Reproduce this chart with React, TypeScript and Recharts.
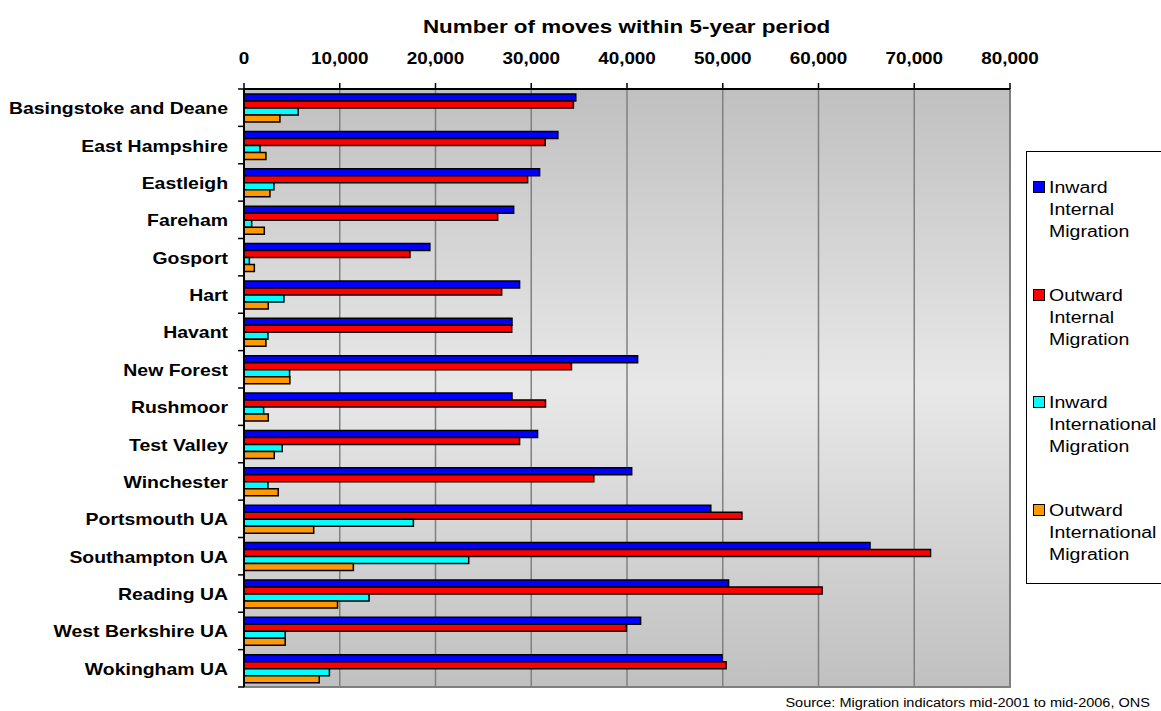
import { BarChart, Bar, XAxis, YAxis, CartesianGrid, ReferenceArea } from 'recharts';

const areas = [
  'Basingstoke and Deane',
  'East Hampshire',
  'Eastleigh',
  'Fareham',
  'Gosport',
  'Hart',
  'Havant',
  'New Forest',
  'Rushmoor',
  'Test Valley',
  'Winchester',
  'Portsmouth UA',
  'Southampton UA',
  'Reading UA',
  'West Berkshire UA',
  'Wokingham UA',
];

const inwardInternal = [34650, 32780, 30870, 28160, 19410, 28780, 27990, 41110, 27990, 30660, 40490, 48750, 65380, 50610, 41420, 49920];
const outwardInternal = [34400, 31460, 29620, 26490, 17330, 26910, 27960, 34200, 31490, 28780, 36530, 52000, 71700, 60380, 39940, 50350];
const inwardInternational = [5660, 1670, 3125, 800, 560, 4170, 2500, 4760, 2050, 3990, 2500, 17690, 23470, 13060, 4300, 8920];
const outwardInternational = [3750, 2290, 2710, 2120, 1080, 2535, 2290, 4790, 2535, 3160, 3575, 7280, 11420, 9770, 4300, 7860];

const xTicks = [0, 10000, 20000, 30000, 40000, 50000, 60000, 70000, 80000];

const series = [
  { key: 'inInt', name: ['Inward', 'Internal', 'Migration'], color: '#0000ff' },
  { key: 'outInt', name: ['Outward', 'Internal', 'Migration'], color: '#ff0000' },
  { key: 'inIntl', name: ['Inward', 'International', 'Migration'], color: '#00ffff' },
  { key: 'outIntl', name: ['Outward', 'International', 'Migration'], color: '#ff9900' },
];

const data = areas.map((area, i) => ({
  area,
  inInt: inwardInternal[i],
  outInt: outwardInternal[i],
  inIntl: inwardInternational[i],
  outIntl: outwardInternational[i],
}));

const FONT = 'Arial, "Liberation Sans", sans-serif';
const STRETCH = 1.18;
const PLOT_TOP = 89;
const PLOT_BOTTOM = 687;
const AXIS_X = 244;
const BAND = (PLOT_BOTTOM - PLOT_TOP) / areas.length;

// category label at band centre, tick marks on band edges (Excel style)
function AreaTick(props: any) {
  const { y, payload, index } = props;
  return (
    <g>
      <line x1={AXIS_X - 6} x2={AXIS_X} y1={y - BAND / 2} y2={y - BAND / 2} stroke="#000" strokeWidth={1.5} />
      {index === areas.length - 1 && (
        <line x1={AXIS_X - 6} x2={AXIS_X} y1={y + BAND / 2} y2={y + BAND / 2} stroke="#000" strokeWidth={1.5} />
      )}
      <g transform={`translate(${AXIS_X - 16},${y}) scale(1.2,1)`}>
        <text x={0} y={0} dy={6.5} textAnchor="end" fontSize={16.2} fontWeight="bold" fill="#000" fontFamily={FONT}>
          {payload.value}
        </text>
      </g>
    </g>
  );
}

function MovesTick(props: any) {
  const { x, payload } = props;
  return (
    <g transform={`translate(${x},64) scale(${STRETCH},1)`}>
      <text x={0} y={0} textAnchor="middle" fontSize={16} fontWeight="bold" fill="#000" fontFamily={FONT}>
        {payload.value.toLocaleString('en-GB')}
      </text>
    </g>
  );
}

export default function App() {
  return (
    <div style={{ position: 'relative', width: 1161, height: 711, background: '#fff', overflow: 'hidden', fontFamily: FONT }}>
      <style>{`body { margin: 0; }`}</style>

      <div style={{ position: 'absolute', left: 0, width: 1254, top: 15, textAlign: 'center', lineHeight: '24px' }}>
        <span style={{ display: 'inline-block', fontSize: 19, fontWeight: 'bold', transform: `scaleX(${STRETCH})` }}>
          Number of moves within 5-year period
        </span>
      </div>

      <BarChart
        width={1161}
        height={711}
        data={data}
        layout="vertical"
        margin={{ top: 0, right: 151, bottom: 711 - PLOT_BOTTOM, left: 0 }}
        barSize={7}
        barGap={0}
        style={{ position: 'absolute', left: 0, top: 0 }}
      >
        <defs>
          <linearGradient id="plotBg" x1="0" y1="0" x2="0" y2="1">
            <stop offset="0%" stopColor="#c0c0c0" />
            <stop offset="50%" stopColor="#e8e8e8" />
            <stop offset="100%" stopColor="#c0c0c0" />
          </linearGradient>
        </defs>
        <CartesianGrid horizontal={false} stroke="#808080" strokeWidth={1.5} fill="url(#plotBg)" />
        <ReferenceArea x1={0} x2={80000} fill="none" stroke="#808080" strokeWidth={2} ifOverflow="visible" />
        <XAxis
          type="number"
          orientation="top"
          domain={[0, 80000]}
          ticks={xTicks}
          height={PLOT_TOP}
          axisLine={{ stroke: '#000', strokeWidth: 2 }}
          tickLine={{ stroke: '#000', strokeWidth: 1.5 }}
          tickSize={6}
          tick={<MovesTick />}
          interval={0}
        />
        <YAxis
          type="category"
          dataKey="area"
          width={AXIS_X}
          axisLine={{ stroke: '#000', strokeWidth: 2 }}
          tickLine={false}
          tick={<AreaTick />}
          interval={0}
        />
        {series.map((s) => (
          <Bar
            key={s.key}
            dataKey={s.key}
            fill={s.color}
            stroke="#000"
            strokeWidth={1.5}
            isAnimationActive={false}
          />
        ))}
      </BarChart>

      <div
        style={{
          position: 'absolute',
          left: 1026,
          top: 151,
          width: 200,
          height: 431,
          border: '1.5px solid #000',
          background: '#fff',
        }}
      >
        {series.map((s, i) => (
          <div key={s.key} style={{ position: 'absolute', left: 6, top: 25 + i * 107.7 }}>
            <div
              style={{
                position: 'absolute',
                left: 0,
                top: 4,
                width: 10,
                height: 10,
                background: s.color,
                border: '1.5px solid #000',
              }}
            />
            <div
              style={{
                position: 'absolute',
                left: 16,
                top: 0,
                fontSize: 16,
                lineHeight: '22px',
                whiteSpace: 'nowrap',
                transform: 'scaleX(1.22)',
                transformOrigin: 'left top',
              }}
            >
              {s.name.map((line) => (
                <div key={line}>{line}</div>
              ))}
            </div>
          </div>
        ))}
      </div>

      <div style={{ position: 'absolute', right: 11, top: 694, lineHeight: '16px', whiteSpace: 'nowrap' }}>
        <span style={{ display: 'inline-block', fontSize: 12.3, color: '#000', transform: `scaleX(${STRETCH})`, transformOrigin: 'right center' }}>
          Source: Migration indicators mid-2001 to mid-2006, ONS
        </span>
      </div>
    </div>
  );
}
